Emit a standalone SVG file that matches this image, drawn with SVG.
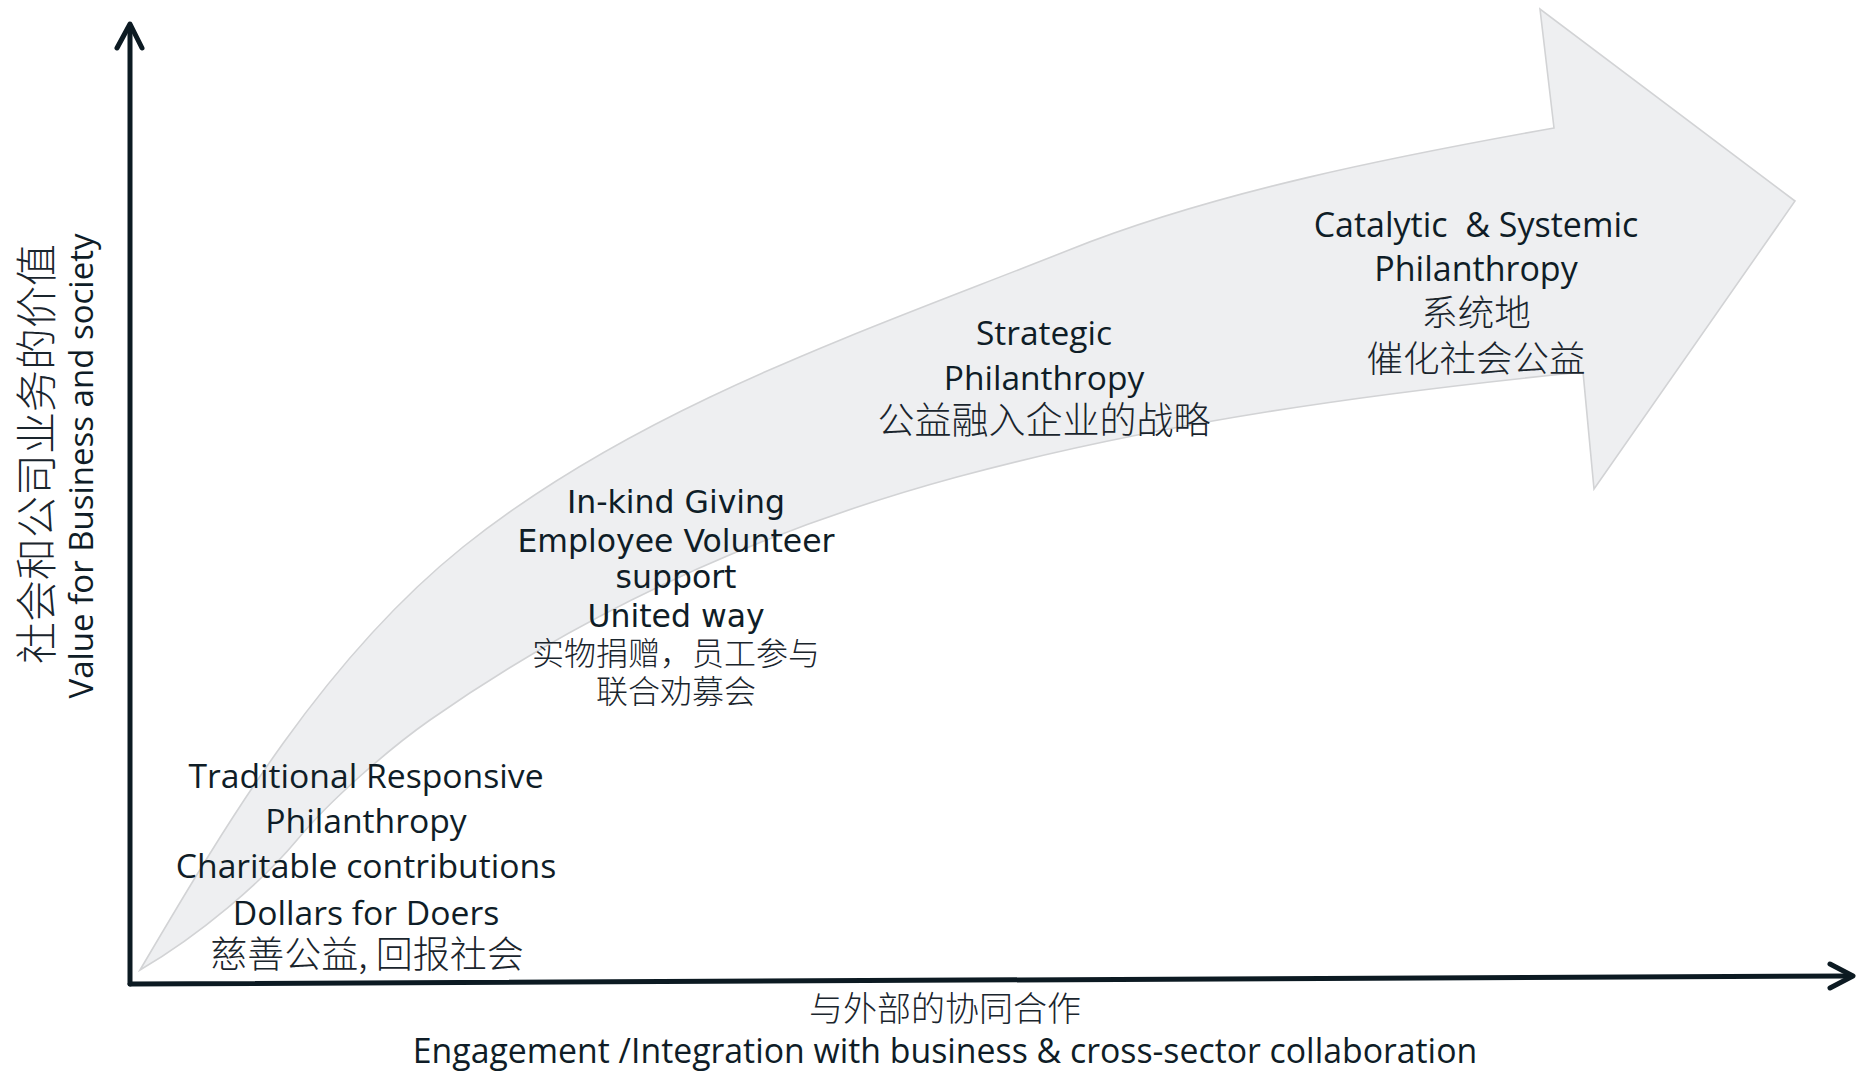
<svg xmlns="http://www.w3.org/2000/svg" width="1858" height="1073" viewBox="0 0 1858 1073">
<style>
.en{font-family:"Open Sans","Noto Sans",sans-serif;fill:#0f1d27;text-anchor:middle}
.tah{font-family:"DejaVu Sans","Noto Sans",sans-serif;fill:#0f1d27;text-anchor:middle}
.zh{font-family:"Noto Sans CJK SC","Noto Sans",sans-serif;font-weight:300;fill:#1a252d;text-anchor:middle}
.axis{fill:none;stroke:#0c1a22;stroke-width:5;stroke-linecap:round;stroke-linejoin:round}
</style>
<rect width="1858" height="1073" fill="#ffffff"/>
<g id="growth-arrow">
<path d="M140,970 C230,817 325,658 463,547 C638,407 860,333 1069,250 C1217,191 1397,156 1554,128 L1540,9 L1795,201 L1594,489 L1583,372 C1374,393 1160,422 957,477 C769,528 590,608 430,720 C390,748 330,800 297,840 C262,882 200,935 140,970 Z" fill="#eeeff1" stroke="#d2d3d5" stroke-width="1.6" stroke-linejoin="miter"/>
</g>
<g id="connectors">
<path class="axis" d="M130,984 L130,26"/>
<path class="axis" d="M117,48 L130,24 L142,48"/>
<path class="axis" d="M130,984 L1851,976"/>
<path class="axis" d="M1830,964 L1853,976 L1830,988"/>
</g>
<g id="y-axis-label">
<text class="zh" font-size="42" transform="translate(52,454) rotate(-90)">社会和公司业务的价值</text>
<text class="en" font-size="33" transform="translate(93,466) rotate(-90)">Value for Business and society</text>
</g>
<g id="x-axis-label">
<text class="zh" font-size="34" x="945" y="1021">与外部的协同合作</text>
<text class="en" font-size="33.8" x="945" y="1063">Engagement /Integration with business &amp; cross-sector collaboration</text>
</g>
<g id="stage-traditional">
<text class="en" font-size="33.7" x="366" y="788">Traditional Responsive</text>
<text class="en" font-size="33.7" x="366" y="833">Philanthropy</text>
<text class="en" font-size="33.7" x="366" y="878">Charitable contributions</text>
<text class="en" font-size="33.7" x="366" y="925">Dollars for Doers</text>
<text class="zh" font-size="37" x="367" y="968">慈善公益, 回报社会</text>
</g>
<g id="stage-inkind">
<text class="tah" font-size="31.5" x="676" y="513">In-kind Giving</text>
<text class="tah" font-size="31.5" x="676" y="552">Employee Volunteer</text>
<text class="tah" font-size="31.5" x="676" y="588">support</text>
<text class="tah" font-size="31.5" x="676" y="627">United way</text>
<text class="zh" font-size="32" x="676" y="665">实物捐赠，员工参与</text>
<text class="zh" font-size="32" x="676" y="703">联合劝募会</text>
</g>
<g id="stage-strategic">
<text class="en" font-size="33.5" x="1044" y="345">Strategic</text>
<text class="en" font-size="33.5" x="1044" y="390">Philanthropy</text>
<text class="zh" font-size="37" x="1044" y="434">公益融入企业的战略</text>
</g>
<g id="stage-catalytic">
<text class="en" font-size="34" x="1476" y="237" xml:space="preserve">Catalytic  &amp; Systemic</text>
<text class="en" font-size="34" x="1476" y="281">Philanthropy</text>
<text class="zh" font-size="36.5" x="1476" y="326">系统地</text>
<text class="zh" font-size="36.5" x="1476" y="372">催化社会公益</text>
</g>
</svg>
